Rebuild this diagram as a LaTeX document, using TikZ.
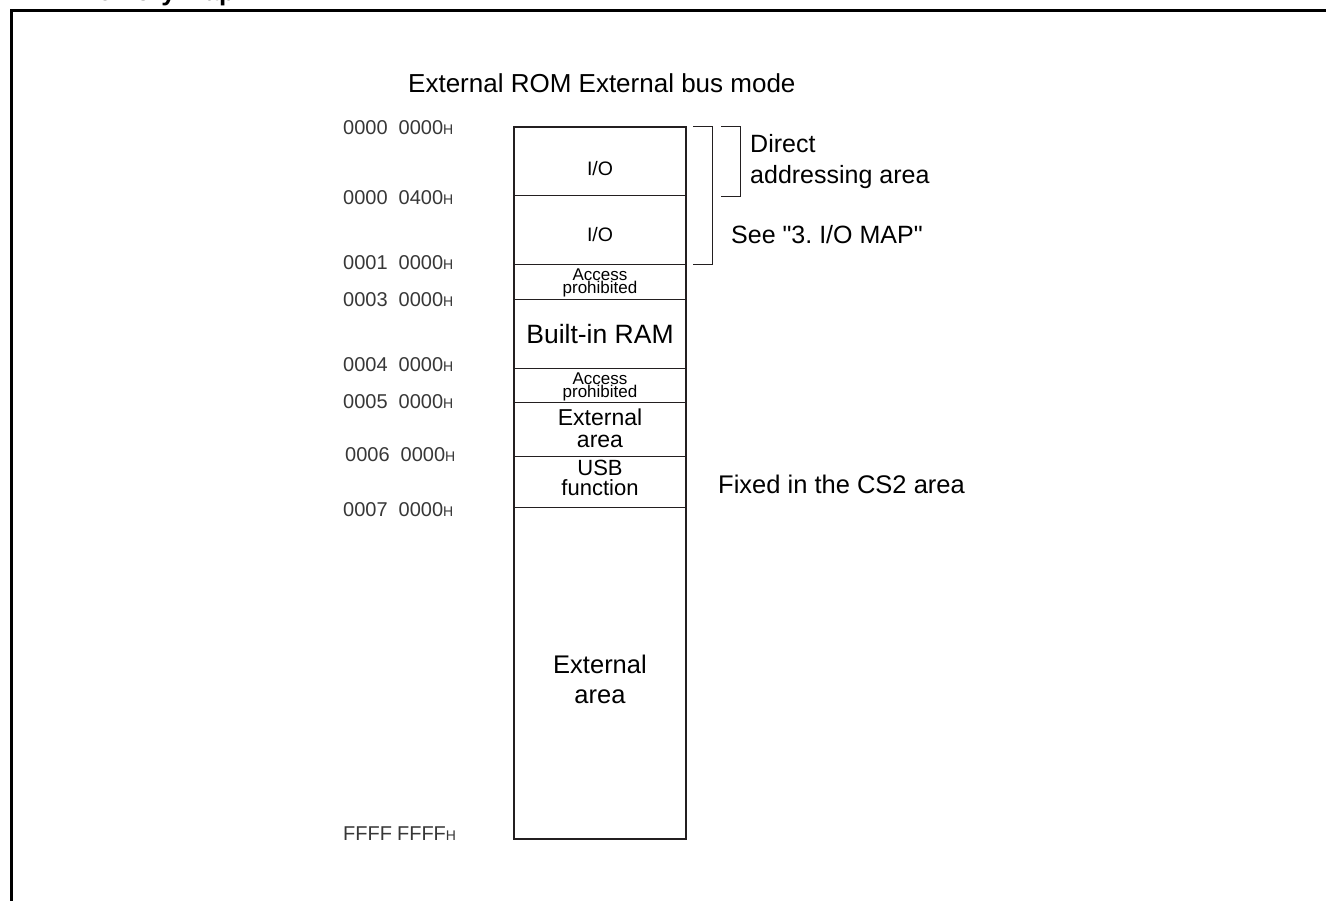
\documentclass[tikz,border=0pt]{standalone}
\usepackage{fontspec}
\setmainfont{Liberation Sans}
\usetikzlibrary{positioning}
\definecolor{inkline}{RGB}{35,31,32}
\definecolor{addrgray}{RGB}{55,55,55}

\newcommand\addrtxt[3]{#1\hspace{#3}#2{\fontsize{14}{14}\selectfont H}}

\begin{document}
\frenchspacing
\begin{tikzpicture}[x=1pt,y=-1pt]

        \tikzstyle{lbl}=[inner sep=0pt, anchor=base west, font=\fontsize{26}{30}\selectfont]
        \tikzstyle{seglbl}=[inner sep=0pt, anchor=base, align=center]
        \tikzstyle{addr}=[inner sep=0pt, anchor=base west, text=addrgray, font=\fontsize{20}{20}\selectfont]

        \useasboundingbox (0,0) rectangle (1326,901);
        \clip (0,0) rectangle (1326,901);

        % frame and cut title
        \draw[line width=3pt]  (11,930) -- (11,11) -- (1340,11) ; %
        \node (title) [lbl, font=\fontsize{26}{30}\selectfont\bfseries] at (76,1) {Memory Map};
        \node (mode)  [lbl] at (408,93) {External ROM External bus mode};

        % the map column
        \node (map) [draw=inkline, line width=2pt, minimum width=172, minimum height=712, inner sep=0pt] at (600,483) {};
        \begin{scope}[line width =1pt, inkline]
        \foreach \y in {196,265,300,369,403,456,507}  \draw (514,\y) -- (686,\y);
        \end{scope}

        % base anchor sits on the last line
        \node (io1)  [seglbl, font=\fontsize{19.5}{20}\selectfont] at (600,176) {I/O};
        \node (io2)  [seglbl, font=\fontsize{19.5}{20}\selectfont] at (600,242) {I/O};
        \node (ap1)  [seglbl, font=\fontsize{17}{12}\selectfont] at (600,294) {Access\\prohibited};
        \node (ram)  [seglbl, font=\fontsize{26.5}{30}\selectfont] at (600,344) {Built-in RAM};
        \node (ap2)  [seglbl, font=\fontsize{17}{12}\selectfont] at (600,398) {Access\\prohibited};
        \node (ext1) [seglbl, font=\fontsize{23}{21.5}\selectfont] at (600,447) {External\\area};
        \node (usb)  [seglbl, font=\fontsize{22}{19.5}\selectfont] at (600,495) {USB\\function};
        \node (ext2) [seglbl, font=\fontsize{25.5}{30}\selectfont] at (600,703) {External\\area};

        % addresses
        \foreach \hi/\lo/\xx/\yy in {0000/0000/343/135, 0000/0400/343/205, 0001/0000/343/270, 0003/0000/343/307, 0004/0000/343/371.5, 0005/0000/343/409, 0006/0000/345/461.5, 0007/0000/343/516.5}
            \node (a\hi\lo) [addr] at (\xx,\yy) {\addrtxt{\hi}{\lo}{11pt}};
        \node (aFFFFFFFF) [addr] at (343,840) {\addrtxt{FFFF}{FFFF}{5pt}};

        % brackets and notes
        \begin{scope}[line width =1pt, inkline]
        \draw  (693,127) -- (712,127) -- (712,265) -- (693,265) ; %
        \draw  (721,127) -- (740,127) -- (740,197) -- (721,197) ; %
        \end{scope}
        \node (direct) [lbl, font=\fontsize{25}{31}\selectfont, align=left] at (750,184) {Direct\\addressing area};
        \node (see)    [lbl, font=\fontsize{25}{31}\selectfont] at (731,244) {See \textquotedbl 3. I/O MAP\textquotedbl};
        \node (cs2)    [lbl, font=\fontsize{25.5}{31}\selectfont] at (718,493) {Fixed in the CS2 area};

\end{tikzpicture}
\end{document}
